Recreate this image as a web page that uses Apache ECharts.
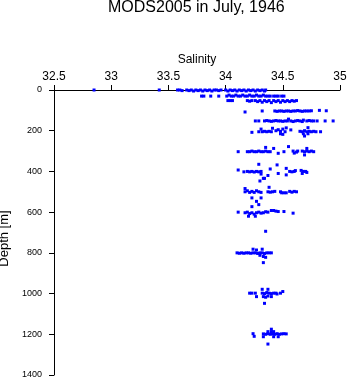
<!DOCTYPE html>
<html>
<head>
<meta charset="utf-8">
<script src="https://cdn.jsdelivr.net/npm/echarts@6/dist/echarts.min.js"></script>
<style>
  html, body { margin: 0; padding: 0; background: #ffffff; }
  #chart { width: 348px; height: 384px; }
</style>
</head>
<body>
<div id="chart"></div>
<script>
// Salinity profile observations for July 1946 (MODS2005).
const titleText = 'MODS2005 in July, 1946';
const xAxisName = 'Salinity';
const yAxisName = 'Depth [m]';
const salinityTicks = [32.5, 33, 33.5, 34, 34.5, 35];
const depthTicks = [0, 200, 400, 600, 800, 1000, 1200, 1400];

// Each observation is [salinity, depth in metres], grouped by depth range.
const obsSurface = [
  [32.85, 0], [33.42, 0], [33.58, 0], [33.60, 0], [33.62, 3],
  [33.66, 0], [33.68, 3], [33.70, 0], [33.72, 5], [33.74, 0], [33.76, 3], [33.78, 0],
  [33.80, 5], [33.82, 0], [33.84, 3], [33.86, 0], [33.88, 5], [33.90, 0],
  [33.92, 0], [33.94, 3], [33.96, 0],
  [34.00, 0], [34.02, 5], [34.04, 0], [34.06, 3], [34.08, 0], [34.10, 5], [34.12, 0],
  [34.14, 3], [34.16, 0], [34.18, 5], [34.20, 0], [34.22, 3], [34.24, 0], [34.26, 5],
  [34.28, 0], [34.30, 3], [34.32, 0], [34.34, 5], [34.35, 0]
];
const obs30 = [
  [33.79, 30], [33.81, 30], [33.87, 30], [33.94, 30],
  [34.01, 30], [34.03, 25], [34.05, 30], [34.07, 30], [34.09, 25], [34.11, 30], [34.13, 30],
  [34.15, 25], [34.17, 30], [34.19, 30], [34.21, 25], [34.23, 30], [34.25, 30], [34.27, 25],
  [34.29, 30], [34.31, 30], [34.33, 25], [34.35, 30], [34.37, 30], [34.39, 30],
  [34.42, 30], [34.44, 30], [34.46, 30], [34.49, 30], [34.51, 30]
];
const obs50 = [
  [34.02, 52], [34.04, 52], [34.06, 52], [34.19, 52], [34.21, 55], [34.23, 52],
  [34.26, 52], [34.28, 57], [34.30, 52], [34.32, 60], [34.34, 52], [34.36, 57], [34.38, 52],
  [34.40, 62], [34.42, 52], [34.44, 57], [34.46, 52], [34.48, 60], [34.50, 52], [34.52, 57],
  [34.54, 52], [34.56, 57], [34.58, 52], [34.60, 55], [34.62, 52]
];
const obs100 = [
  [34.17, 108], [34.32, 103],
  [34.43, 103], [34.45, 105], [34.47, 103], [34.49, 103], [34.51, 105], [34.53, 103],
  [34.55, 103], [34.57, 105], [34.59, 103], [34.61, 103], [34.63, 101], [34.65, 103],
  [34.67, 105], [34.69, 103], [34.71, 103], [34.73, 103],
  [34.75, 102], [34.82, 100], [34.88, 102]
];
const obs150 = [
  [34.26, 152], [34.29, 152],
  [34.34, 152], [34.36, 150], [34.38, 152], [34.40, 154], [34.42, 152], [34.44, 150],
  [34.46, 152], [34.48, 152], [34.50, 154], [34.52, 152], [34.54, 152], [34.55, 143],
  [34.57, 152], [34.59, 155], [34.61, 152], [34.63, 150], [34.65, 152], [34.67, 155],
  [34.68, 148], [34.71, 152], [34.73, 150], [34.75, 152], [34.77, 152],
  [34.80, 152], [34.87, 152], [34.94, 152]
];
const obs200 = [
  [34.23, 208], [34.29, 205], [34.31, 192], [34.32, 205], [34.34, 203], [34.36, 205],
  [34.38, 203], [34.40, 205], [34.41, 188], [34.44, 200], [34.46, 195], [34.48, 203],
  [34.48, 215], [34.50, 192], [34.50, 218], [34.52, 205], [34.53, 186], [34.57, 196],
  [34.65, 203], [34.67, 205], [34.68, 215], [34.69, 200], [34.69, 226], [34.71, 205],
  [34.72, 185], [34.72, 215], [34.73, 203], [34.75, 205], [34.77, 203], [34.79, 205],
  [34.83, 205]
];
const obs300 = [
  [34.11, 303],
  [34.19, 303], [34.21, 303], [34.23, 300], [34.25, 303], [34.27, 303], [34.29, 300],
  [34.31, 303], [34.33, 303], [34.35, 300], [34.37, 303], [34.39, 303],
  [34.35, 282], [34.42, 287], [34.46, 311], [34.51, 303], [34.55, 278],
  [34.59, 300], [34.60, 310], [34.62, 305], [34.63, 300],
  [34.67, 300], [34.69, 303], [34.69, 319], [34.71, 287], [34.71, 300], [34.73, 303],
  [34.75, 300], [34.77, 303]
];
const obs400 = [
  [34.11, 393], [34.16, 402],
  [34.19, 400], [34.21, 402], [34.23, 400], [34.25, 403], [34.27, 400], [34.29, 402],
  [34.31, 400], [34.29, 365], [34.31, 413], [34.34, 434], [34.30, 447], [34.33, 434],
  [34.37, 420], [34.39, 388], [34.45, 368], [34.46, 410], [34.53, 385], [34.53, 417],
  [34.56, 400], [34.58, 402], [34.60, 400], [34.61, 396],
  [34.66, 395], [34.67, 410], [34.68, 400], [34.70, 400], [34.71, 405]
];
const obs500 = [
  [34.38, 478], [34.17, 484],
  [34.17, 500], [34.19, 495], [34.21, 503], [34.23, 498], [34.25, 503], [34.27, 495],
  [34.29, 500], [34.31, 503],
  [34.37, 500], [34.39, 502], [34.41, 500], [34.43, 498],
  [34.48, 500], [34.49, 505], [34.51, 505], [34.53, 505],
  [34.56, 498], [34.58, 502], [34.60, 498], [34.62, 500],
  [34.23, 530], [34.31, 530], [34.27, 547], [34.29, 563]
];
const obs600 = [
  [34.23, 573], [34.11, 600],
  [34.17, 603], [34.19, 600], [34.21, 607], [34.23, 603], [34.25, 610], [34.27, 603],
  [34.29, 600], [34.31, 605], [34.33, 603], [34.35, 598],
  [34.37, 600], [34.40, 592], [34.42, 592], [34.44, 595], [34.46, 597], [34.51, 597],
  [34.59, 605], [34.20, 620], [34.26, 620]
];
const obs700 = [
  [34.35, 694]
];
const obs800 = [
  [34.24, 782], [34.27, 786], [34.32, 782],
  [34.10, 800], [34.12, 802], [34.14, 800], [34.16, 802], [34.18, 800], [34.20, 800],
  [34.22, 802], [34.24, 800], [34.26, 800], [34.28, 803], [34.30, 800], [34.32, 800],
  [34.34, 803], [34.36, 800], [34.38, 800], [34.40, 800],
  [34.30, 812], [34.33, 818], [34.35, 822], [34.33, 848]
];
const obs1000 = [
  [34.32, 979], [34.37, 979], [34.21, 998], [34.23, 998], [34.26, 998],
  [34.32, 998], [34.34, 1000], [34.36, 995], [34.38, 998], [34.40, 1000], [34.42, 998],
  [34.44, 998], [34.45, 1002], [34.48, 998], [34.50, 990],
  [34.27, 1015], [34.33, 1015], [34.35, 1018], [34.37, 1012], [34.40, 1015],
  [34.34, 1048]
];
const obs1200 = [
  [34.40, 1175], [34.37, 1187], [34.40, 1187], [34.42, 1187], [34.24, 1197],
  [34.33, 1198], [34.35, 1200], [34.37, 1197], [34.39, 1200], [34.41, 1198], [34.43, 1200],
  [34.45, 1197], [34.47, 1200], [34.49, 1198], [34.51, 1197], [34.53, 1198],
  [34.25, 1210], [34.33, 1212], [34.42, 1212], [34.46, 1212], [34.37, 1248]
];

const observations = [].concat(
  obsSurface, obs30, obs50, obs100, obs150, obs200, obs300,
  obs400, obs500, obs600, obs700, obs800, obs1000, obs1200
);

const font = 'Liberation Sans, Arial, Helvetica, sans-serif';
const chart = echarts.init(document.getElementById('chart'), null, { renderer: 'canvas' });

chart.setOption({
  animation: false,
  backgroundColor: '#ffffff',
  title: {
    text: titleText,
    left: 108,
    top: 0,
    padding: 0,
    textStyle: { fontFamily: font, fontSize: 16, fontWeight: 'normal', color: '#000000' }
  },
  grid: {
    left: 54, top: 90, right: 8, bottom: 9,
    containLabel: false,
    outerBoundsMode: 'none'
  },
  xAxis: {
    type: 'value',
    position: 'top',
    min: salinityTicks[0],
    max: salinityTicks[salinityTicks.length - 1],
    interval: 0.5,
    name: xAxisName,
    nameLocation: 'middle',
    nameGap: 19,
    nameTextStyle: { fontFamily: font, fontSize: 12, color: '#000000' },
    axisLine: { onZero: false, lineStyle: { color: '#000000', width: 1 } },
    axisTick: { inside: false, length: 5, lineStyle: { color: '#000000', width: 1 } },
    axisLabel: {
      fontFamily: font, fontSize: 12, color: '#000000', margin: 7,
      formatter: (v) => String(v)
    },
    splitLine: { show: false }
  },
  yAxis: {
    type: 'value',
    inverse: true,
    min: depthTicks[0],
    max: depthTicks[depthTicks.length - 1],
    interval: 200,
    name: yAxisName,
    nameLocation: 'middle',
    nameRotate: 90,
    nameGap: 34,
    nameTextStyle: { fontFamily: font, fontSize: 13, color: '#000000', padding: [0, 12, 0, 0] },
    axisLine: { onZero: false, lineStyle: { color: '#000000', width: 1 } },
    axisTick: { inside: false, length: 5, lineStyle: { color: '#000000', width: 1 } },
    axisLabel: {
      fontFamily: font, fontSize: 9, color: '#000000', margin: 12,
      formatter: (v) => String(v)
    },
    splitLine: { show: false }
  },
  series: [{
    type: 'scatter',
    data: observations,
    symbol: 'rect',
    symbolSize: 3,
    itemStyle: { color: '#0000ff', opacity: 1 },
    emphasis: { disabled: true }
  }]
});
</script>
</body>
</html>
